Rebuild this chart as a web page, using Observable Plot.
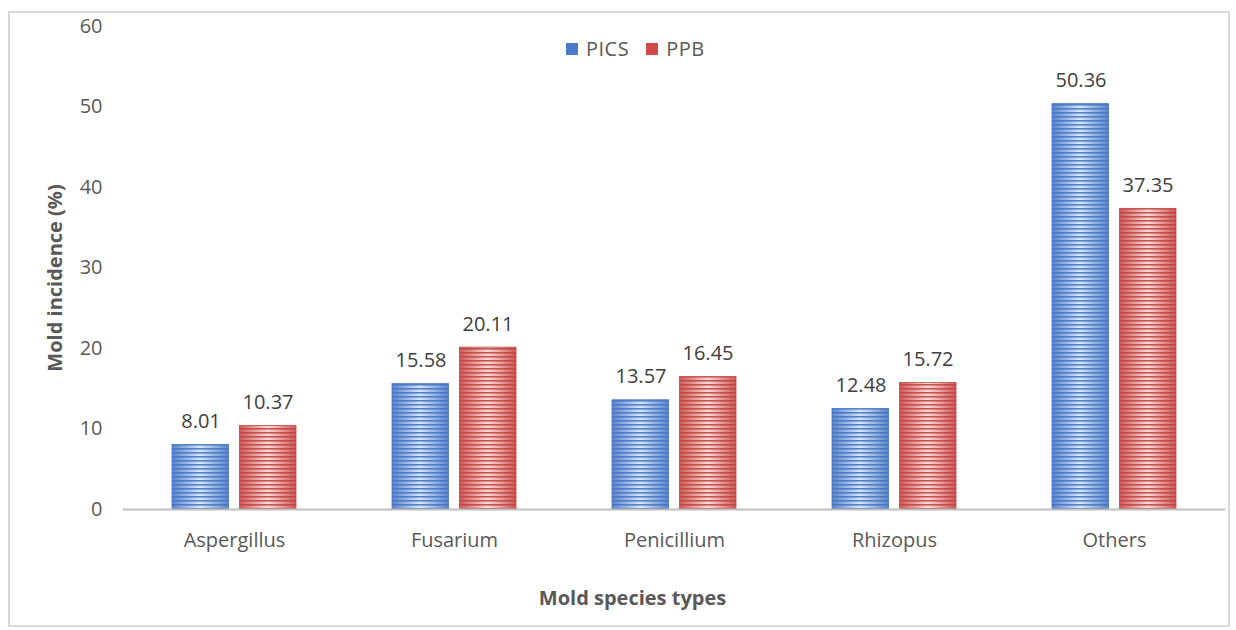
<!DOCTYPE html>
<html><head><meta charset="utf-8">
<script src="https://cdn.jsdelivr.net/npm/d3@7"></script>
<script src="https://cdn.jsdelivr.net/npm/@observablehq/plot@0.6"></script>
<style>
body{margin:0;background:#fff;}
#wrap{position:relative;width:1236px;height:630px;font-family:"Open Sans",sans-serif;overflow:hidden}
#border{position:absolute;left:8px;top:11px;width:1222px;height:616px;border:2px solid #d9d9d9;box-sizing:border-box}
#chart{position:absolute;left:0;top:0}
#legend{position:absolute;top:35px;left:566px;display:flex;align-items:center;font-size:20px;color:#595959;letter-spacing:0.5px}
#legend .sw{width:12px;height:12px;display:inline-block;margin-right:8px}
#legend .item{display:flex;align-items:center;margin-right:17px}
#defs{position:absolute;width:0;height:0}
</style></head>
<body>
<div id="wrap">
<svg id="defs" width="0" height="0">
<defs>
<linearGradient id="gBlue" x1="0" x2="1" y1="0" y2="0">
<stop offset="0" stop-color="#5a86cd"/><stop offset="0.5" stop-color="#d6e6f9"/><stop offset="1" stop-color="#5a86cd"/>
</linearGradient>
<linearGradient id="gRed" x1="0" x2="1" y1="0" y2="0">
<stop offset="0" stop-color="#cd5a57"/><stop offset="0.5" stop-color="#fbdad8"/><stop offset="1" stop-color="#cd5a57"/>
</linearGradient>
<pattern id="sBlue" patternUnits="userSpaceOnUse" width="8" height="4">
<rect x="0" y="0" width="8" height="1.6" fill="#4372c2" opacity="0.85"/>
</pattern>
<pattern id="sRed" patternUnits="userSpaceOnUse" width="8" height="4">
<rect x="0" y="0" width="8" height="1.6" fill="#c0413e" opacity="0.85"/>
</pattern>
</defs>
</svg>
<div id="border"></div>
<div id="chart"></div>
<div id="legend">
<span class="item"><span class="sw" style="background:#4a7bc8"></span>PICS</span>
<span class="item"><span class="sw" style="background:#cf4a48"></span>PPB</span>
</div>
</div>
<script>
const categories = ["Aspergillus", "Fusarium", "Penicillium", "Rhizopus", "Others"];
const series = ["PICS", "PPB"];
const picsValues = [8.01, 15.58, 13.57, 12.48, 50.36];
const ppbValues = [10.37, 20.11, 16.45, 15.72, 37.35];
const yTicks = [0, 10, 20, 30, 40, 50, 60];
const yTitle = "Mold incidence (%)";
const xTitle = "Mold species types";

const table = categories.flatMap((c, i) => [
  {category: c, series: "PICS", value: picsValues[i]},
  {category: c, series: "PPB", value: ppbValues[i]}
]);

const style = {
  PICS: {grad: "url(#gBlue)", stripe: "url(#sBlue)", stroke: "#4a78c4", insetLeft: 48, insetRight: 115.5, dx: -33.5},
  PPB: {grad: "url(#gRed)", stripe: "url(#sRed)", stroke: "#c44a47", insetLeft: 115.5, insetRight: 48, dx: 33.5}
};

const marks = [];
for (const s of series) {
  const d = table.filter(r => r.series === s);
  const st = style[s];
  marks.push(Plot.barY(d, {x: "category", y: "value", fill: st.grad, insetLeft: st.insetLeft, insetRight: st.insetRight}));
  marks.push(Plot.barY(d, {x: "category", y: "value", fill: st.stripe, stroke: st.stroke, strokeWidth: 0.8, insetLeft: st.insetLeft, insetRight: st.insetRight}));
  marks.push(Plot.text(d, {x: "category", y: "value", text: r => r.value.toFixed(2), dx: st.dx, dy: -17, lineAnchor: "bottom", fontSize: 20, fill: "#404040", style: {letterSpacing: "1.5px"}}));
}

const chart = Plot.plot({
  width: 1236,
  height: 630,
  marginLeft: 123,
  marginRight: 11,
  marginTop: 26,
  marginBottom: 121,
  style: {fontFamily: "'Open Sans', sans-serif", background: "transparent", overflow: "visible"},
  x: {domain: categories, padding: 0, label: null},
  y: {domain: [0, 60], label: null},
  marks: [
    Plot.axisY({ticks: yTicks, tickSize: 0, tickPadding: 21, fontSize: 20, fill: "#595959", label: null, style: {letterSpacing: "1.5px"}}),
    Plot.axisX({tickSize: 0, tickPadding: 23, fontSize: 20, fill: "#595959", label: null, style: {letterSpacing: "1.5px"}}),
    ...marks,
    Plot.ruleY([0], {stroke: "#bfbfbf", strokeWidth: 2}),
    Plot.text([yTitle], {frameAnchor: "left", textAnchor: "middle", lineAnchor: "middle", dx: -68, dy: 10, rotate: -90, fontSize: 20, fontWeight: "bold", fill: "#595959", style: {letterSpacing: "0.7px"}}),
    Plot.text([xTitle], {frameAnchor: "bottom", textAnchor: "middle", lineAnchor: "middle", dx: -42, dy: 89, fontSize: 20, fontWeight: "bold", fill: "#595959", style: {letterSpacing: "0.7px"}})
  ]
});
document.getElementById("chart").appendChild(chart);
</script>
</body></html>
